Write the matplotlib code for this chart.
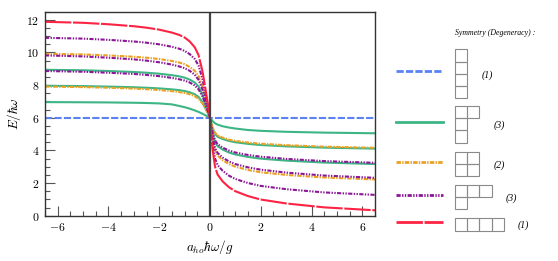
import matplotlib
matplotlib.use("Agg")
import matplotlib.pyplot as plt
from matplotlib.patches import Rectangle
from matplotlib.ticker import MultipleLocator, FuncFormatter

plt.rcParams["mathtext.fontset"] = "cm"
plt.rcParams["lines.scale_dashes"] = False

# shared x grid (a_ho hbar omega / g)
x = [-6.5, -5, -4, -3, -2.5, -2, -1.5, -1.2, -1.0, -0.8, -0.6, -0.45, -0.3, -0.2, -0.1,
     0, 0.1, 0.2, 0.3, 0.5, 0.75, 1.0, 1.5, 2, 3, 4.5, 6.5]

# energies E / hbar omega
red_1 = [11.88, 11.82, 11.73, 11.61, 11.52, 11.4, 11.22, 11.07, 10.92, 10.68, 10.32, 9.84, 8.88, 7.98, 7.02,
         6.0, 4.08, 3.0, 2.52, 2.1, 1.74, 1.5, 1.2, 0.99, 0.75, 0.51, 0.33]
purple_a = [10.9, 10.85, 10.775, 10.675, 10.6, 10.5, 10.35, 10.225, 10.1, 9.9, 9.6, 9.2, 8.4, 7.65, 6.85,
            6.0, 4.4, 3.5, 3.1, 2.75, 2.45, 2.25, 2.0, 1.825, 1.625, 1.425, 1.275]
orange_a = [9.92, 9.88, 9.82, 9.74, 9.68, 9.6, 9.48, 9.38, 9.28, 9.12, 8.88, 8.56, 7.92, 7.32, 6.68,
            6.0, 4.72, 4.0, 3.68, 3.4, 3.16, 3.0, 2.8, 2.66, 2.5, 2.34, 2.22]
purple_b = [9.82, 9.76, 9.68, 9.58, 9.5, 9.4, 9.26, 9.14, 9.04, 8.88, 8.64, 8.32, 7.76, 7.24, 6.64,
            6.0, 4.8, 4.16, 3.84, 3.56, 3.32, 3.16, 2.96, 2.82, 2.64, 2.46, 2.32]
green_a = [8.94, 8.91, 8.865, 8.805, 8.76, 8.7, 8.61, 8.535, 8.46, 8.34, 8.16, 7.92, 7.44, 6.99, 6.51,
           6.0, 5.04, 4.5, 4.26, 4.05, 3.87, 3.75, 3.6, 3.495, 3.375, 3.255, 3.165]
purple_c = [8.865, 8.82, 8.76, 8.685, 8.625, 8.55, 8.445, 8.355, 8.28, 8.16, 7.98, 7.74, 7.32, 6.93, 6.48,
            6.0, 5.1, 4.62, 4.38, 4.17, 3.99, 3.87, 3.72, 3.615, 3.48, 3.345, 3.24]
green_b = [7.96, 7.94, 7.91, 7.87, 7.84, 7.8, 7.74, 7.69, 7.64, 7.56, 7.44, 7.28, 6.96, 6.66, 6.34,
           6.0, 5.36, 5.0, 4.84, 4.7, 4.58, 4.5, 4.4, 4.33, 4.25, 4.17, 4.11]
orange_b = [7.91, 7.88, 7.84, 7.79, 7.75, 7.7, 7.63, 7.57, 7.52, 7.44, 7.32, 7.16, 6.88, 6.62, 6.32,
            6.0, 5.4, 5.08, 4.92, 4.78, 4.66, 4.58, 4.48, 4.41, 4.32, 4.23, 4.16]
green_c = [6.96, 6.95, 6.94, 6.92, 6.905, 6.88, 6.82, 6.72, 6.65, 6.56, 6.45, 6.36, 6.25, 6.17, 6.085,
           6.0, 5.8, 5.66, 5.58, 5.48, 5.4, 5.34, 5.25, 5.2, 5.14, 5.09, 5.05]
blue_1 = [6.0] * len(x)

# legend: young diagram rows and degeneracies
young_rows = [[1, 1, 1, 1], [2, 1, 1], [2, 2], [3, 1], [4]]
degeneracy = ["(1)", "(3)", "(2)", "(3)", "(1)"]

BLUE = "#5b82f2"
GREEN = "#3db585"
ORANGE = "#e9a126"
PURPLE = "#8b1796"
RED = "#fd2343"

styles = {
    "blue": dict(color=BLUE, dashes=(5.2, 1.6)),
    "green": dict(color=GREEN, linestyle="-"),
    "orange": dict(color=ORANGE, dashes=(3.2, 0.9, 1.0, 0.9)),
    "purple": dict(color=PURPLE, dashes=(3.0, 1.0, 1.0, 1.0, 1.0, 1.0)),
    "red": dict(color=RED, dashes=(19, 1.2)),
}

fig = plt.figure(figsize=(5.58, 2.61), dpi=100)
ax = fig.add_axes([0.0806, 0.1736, 0.5914, 0.7816])

lw = 1.5
ax.plot(x, blue_1, lw=lw, **styles["blue"])
for y in [green_a, green_b, green_c]:
    ax.plot(x, y, lw=lw, **styles["green"])
for y in [orange_a, orange_b]:
    ax.plot(x, y, lw=lw, **styles["orange"])
for y in [purple_a, purple_b, purple_c]:
    ax.plot(x, y, lw=lw, **styles["purple"])
ax.plot(x, red_1, lw=lw, **styles["red"])

ax.axvline(0, color="#444444", lw=1.6)

ax.set_xlim(-6.5, 6.5)
ax.set_ylim(0, 12.5)
ax.xaxis.set_major_locator(MultipleLocator(2))
ax.xaxis.set_minor_locator(MultipleLocator(0.5))
ax.yaxis.set_major_locator(MultipleLocator(2))
ax.yaxis.set_minor_locator(MultipleLocator(0.5))
cm_fmt = FuncFormatter(lambda v, p: f"${v:g}$")
ax.xaxis.set_major_formatter(cm_fmt)
ax.yaxis.set_major_formatter(cm_fmt)
ax.tick_params(which="both", direction="in", color="#555555", labelsize=8.5, top=False, right=False)
ax.tick_params(which="major", length=7, width=0.8, pad=4)
ax.tick_params(which="minor", length=3.5, width=0.8)
for s in ax.spines.values():
    s.set_color("#333333")
    s.set_linewidth(1.0)

ax.set_xlabel(r"$a_{ho}\hbar\omega/g$", fontsize=9.5, labelpad=3)
ax.set_ylabel(r"$E/\hbar\omega$", fontsize=9.5, labelpad=2)

# custom legend with young diagrams, drawn in pixel coordinates
lg = fig.add_axes([0, 0, 1, 1])
lg.set_xlim(0, 558)
lg.set_ylim(261, 0)
lg.axis("off")

lg.text(455, 33, "Symmetry (Degeneracy) :", fontsize=5.6, style="italic",
        family="Liberation Serif", va="center", ha="left")

box = 12.2
line_y = [71, 122, 162, 195, 222]
diag_top = [49.3, 106, 151.7, 185, 218.3]
keys = ["blue", "green", "orange", "purple", "red"]
for k, ly, top, rows, deg in zip(keys, line_y, diag_top, young_rows, degeneracy):
    lg.plot([396, 443], [ly, ly], lw=2.0, **styles[k])
    for r, n in enumerate(rows):
        for c in range(n):
            lg.add_patch(Rectangle((455 + c * box, top + r * box), box, box,
                                   fill=False, edgecolor="#8a8a8a", lw=0.8))
    width = max(rows) * box
    height = len(rows) * box
    lg.text(455 + width + 14, top + height / 2 + 1, deg, fontsize=7, style="italic",
            family="Liberation Serif", va="center", ha="left")

fig.savefig("out.png", dpi=100)
